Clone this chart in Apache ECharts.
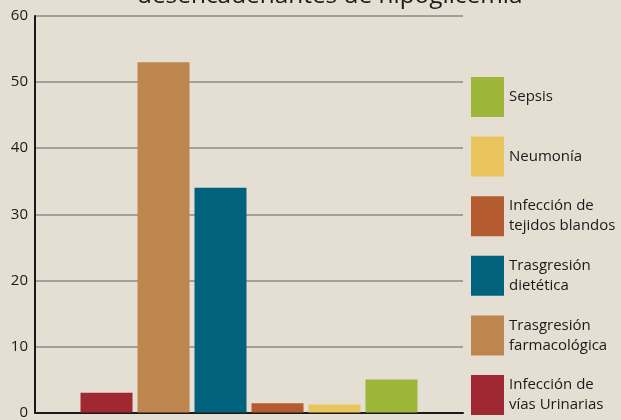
<!DOCTYPE html>
<html>
<head>
<meta charset="utf-8">
<script src="https://cdn.jsdelivr.net/npm/echarts@6/dist/echarts.min.js"></script>
<style>
html,body{margin:0;padding:0;background:#e5ded2;}
#c{width:621px;height:420px;}
</style>
</head>
<body>
<div id="c"></div>
<script>
const titleText = 'desencadenantes de hipoglicemia';
const category = ['Factores'];
const seriesNames = ['Infección de vías Urinarias','Trasgresión farmacológica','Trasgresión dietética','Infección de tejidos blandos','Neumonía','Sepsis'];
const seriesLabels = ['Infección de\nvías Urinarias','Trasgresión\nfarmacológica','Trasgresión\ndietética','Infección de\ntejidos blandos','Neumonía','Sepsis'];
const seriesValues = [3, 53, 34, 1.4, 1.2, 5];
const seriesColors = ['#a02832','#bd864e','#00627c','#b45b2f','#eac55e','#9eb637'];
const yTicks = [0, 10, 20, 30, 40, 50, 60];

const FONT = '"Open Sans", sans-serif';
const labelMap = {};
seriesNames.forEach((n,i)=>labelMap[n]=seriesLabels[i]);

const chart = echarts.init(document.getElementById('c'), null, {renderer:'canvas'});
chart.setOption({
  backgroundColor:'#e5ded2',
  animation:false,
  graphic:[{
    type:'text', left:137, top:-16,
    style:{text:titleText, font:'24.4px ' + FONT, fill:'#1a1a1a'}
  }],
  grid:{left:35, right:158, top:16, bottom:7, containLabel:false},
  legend:{
    orient:'vertical', left:471, top:77, padding:0,
    itemWidth:33, itemHeight:40, itemGap:19.6,
    icon:'rect',
    data:seriesNames.slice().reverse(),
    formatter:n=>labelMap[n],
    textStyle:{fontFamily:FONT, fontSize:15, color:'#1a1a1a', lineHeight:20},
    selectedMode:false
  },
  xAxis:{
    type:'category', data:category,
    axisLine:{lineStyle:{color:'#1a1a1a', width:2}},
    axisTick:{show:false}, axisLabel:{show:false}
  },
  yAxis:{
    type:'value', min:yTicks[0], max:yTicks[yTicks.length-1], interval:10,
    axisLine:{show:true, lineStyle:{color:'#1a1a1a', width:2}},
    axisTick:{show:false},
    axisLabel:{fontFamily:FONT, fontSize:15, color:'#1a1a1a', margin:7},
    splitLine:{lineStyle:{color:'#8a8a8a', width:1.5}}
  },
  series:seriesNames.map((n,i)=>({
    name:n, type:'bar', data:[seriesValues[i]],
    barWidth:52, barGap:'9.6%',
    itemStyle:{color:seriesColors[i]}
  }))
});
</script>
</body>
</html>
